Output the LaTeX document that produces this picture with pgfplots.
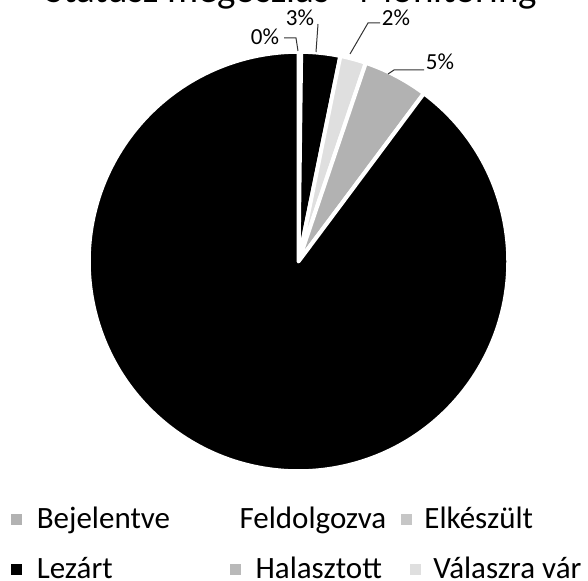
\documentclass[border=0pt]{standalone}
\usepackage{pgfplots}
\usepackage{pgfplotstable}
\pgfplotsset{compat=1.18}
\usepackage{fontspec}
\setmainfont{Carlito}

\pgfplotstableread{
name value fillc
Bejelentve 0.2 gray!60
Feldolgozva 3 black
Elkeszult 2 gray!25
Halasztott 5 gray!60
Lezart 89.8 black
}\piedata

\begin{document}
\begin{tikzpicture}[x=0.5pt,y=-0.5pt]
\useasboundingbox (0,0) rectangle (588,581);
\clip (0,0) rectangle (588,581);
\node[font=\fontsize{19.5}{23}\selectfont, anchor=base, inner sep=0pt] at (291.5,3) {Státusz megoszlás - Monitoring};

\begin{axis}[
  at={(149.25pt,-130.75pt)}, anchor=center,
  width=209.75pt, height=209.75pt, scale only axis,
  hide axis, xmin=-1, xmax=1, ymin=-1, ymax=1, clip=false,
  legend columns=3,
  legend style={at={(axis description cs:-0.1853,-0.1139)}, anchor=base west,
    draw=none, fill=none, inner sep=0pt, outer sep=0pt,
    font=\fontsize{15.5}{18}\selectfont, column sep=0pt,
    nodes={inner sep=0pt, outer sep=0pt}},
]
\gdef\cum{0}
\pgfplotsinvokeforeach{0,...,4}{
  \pgfplotstablegetelem{#1}{value}\of\piedata
  \xdef\val{\pgfplotsretval}
  \pgfplotstablegetelem{#1}{fillc}\of\piedata
  \xdef\col{\pgfplotsretval}
  \pgfmathsetmacro\angA{90-3.6*\cum}
  \pgfmathsetmacro\angB{90-3.6*(\cum+\val)}
  \edef\temp{\noexpand\fill[fill=\col, draw=white, line width=2pt, line join=round] (axis cs:0,0) -- (axis cs:{cos(\angA)},{sin(\angA)}) arc[start angle=\angA, end angle=\angB, radius=1] -- cycle;}
  \temp
  \pgfmathsetmacro\newcum{\cum+\val}
  \xdef\cum{\newcum}
}
\addlegendimage{legend image code/.code={\fill[gray!60] (0pt,-2.5pt) rectangle (5pt,2.5pt);}}
\addlegendentry{\makebox[96pt][l]{\hspace{7.5pt}Bejelentve}}
\addlegendimage{legend image code/.code={\fill[white] (0pt,-2.5pt) rectangle (5pt,2.5pt);}}
\addlegendentry{\makebox[88pt][l]{\hspace{7.5pt}Feldolgozva}}
\addlegendimage{legend image code/.code={\fill[gray!45] (0pt,-2.5pt) rectangle (5pt,2.5pt);}}
\addlegendentry{\hspace{6.5pt}Elkészült}
\end{axis}

\begin{axis}[
  at={(149.25pt,-130.75pt)}, anchor=center,
  width=209.75pt, height=209.75pt, scale only axis,
  hide axis, xmin=-1, xmax=1, ymin=-1, ymax=1, clip=false,
  legend columns=3,
  legend style={at={(axis description cs:-0.1853,-0.2340)}, anchor=base west,
    draw=none, fill=none, inner sep=0pt, outer sep=0pt,
    font=\fontsize{15.5}{18}\selectfont, column sep=0pt,
    nodes={inner sep=0pt, outer sep=0pt}},
]
\addplot[draw=none, forget plot] coordinates {(0,0)};
\addlegendimage{legend image code/.code={\fill[black] (0pt,-2.5pt) rectangle (5pt,2.5pt);}}
\addlegendentry{\makebox[104pt][l]{\hspace{7.5pt}Lezárt}}
\addlegendimage{legend image code/.code={\fill[gray!55] (0pt,-2.5pt) rectangle (5pt,2.5pt);}}
\addlegendentry{\makebox[84.5pt][l]{\hspace{7.5pt}Halasztott}}
\addlegendimage{legend image code/.code={\fill[gray!25] (0pt,-2.5pt) rectangle (5pt,2.5pt);}}
\addlegendentry{\hspace{6.5pt}Válaszra vár}
\end{axis}

% data labels with leader lines
\begin{scope}[font=\fontsize{11.5}{14}\selectfont, inner sep=0pt]
\node at (265,37) {0\%};
\node at (300,18) {3\%};
\node at (396,18) {2\%};
\node at (440,62) {5\%};
\draw[black!80, line width=0.5pt] (284,38) -- (296,38) -- (298,51);
\draw[black!80, line width=0.5pt] (318,24) -- (316,52);
\draw[black!80, line width=0.5pt] (380,23) -- (368,23) -- (350,54);
\draw[black!80, line width=0.5pt] (424,70) -- (394,70) -- (388,74);
\end{scope}
\end{tikzpicture}
\end{document}
